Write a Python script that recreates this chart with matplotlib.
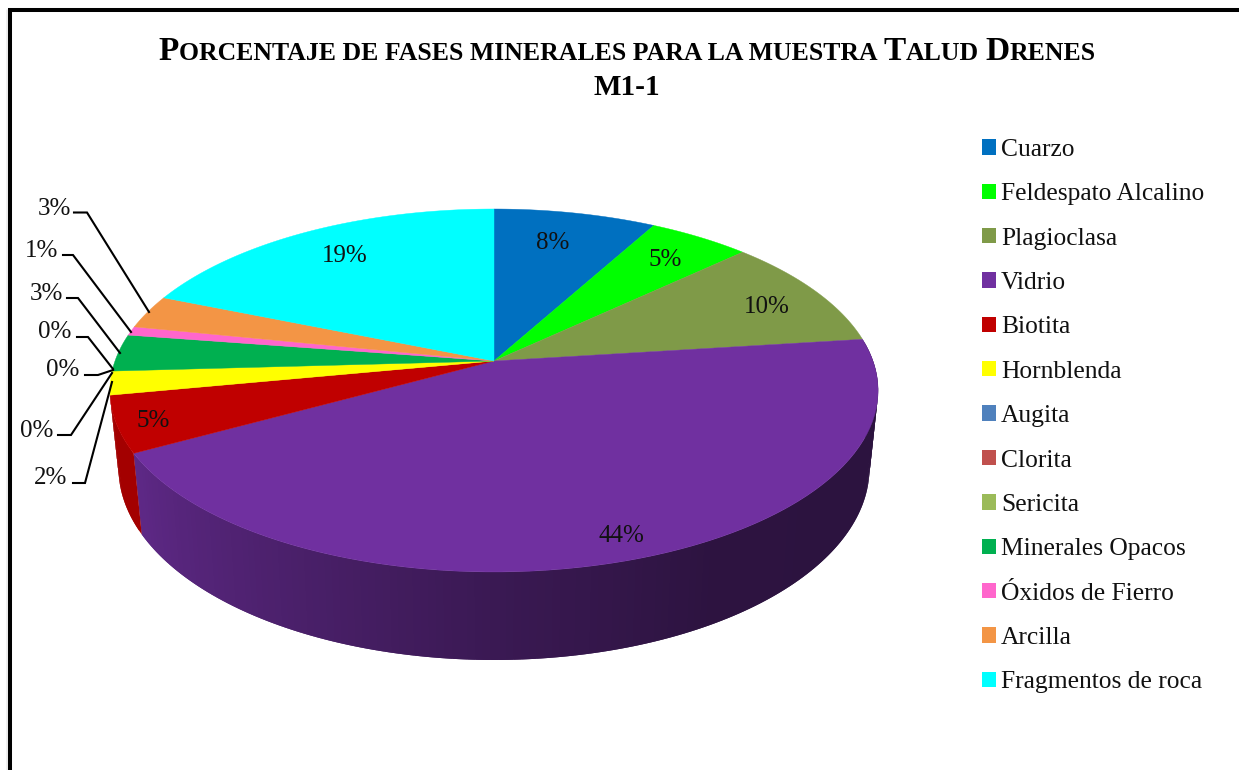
#!/usr/bin/env python3
import matplotlib
matplotlib.use('Agg')
import matplotlib.pyplot as plt
from matplotlib.patches import Patch
import numpy as np

minerals = ['Cuarzo', 'Feldespato Alcalino', 'Plagioclasa', 'Vidrio', 'Biotita',
            'Hornblenda', 'Augita', 'Clorita', 'Sericita', 'Minerales Opacos',
            'Óxidos de Fierro', 'Arcilla', 'Fragmentos de roca']
percents = [8.0, 5.0, 10.0, 44.0, 5.0, 2.1, 0.0, 0.0, 0.0, 3.3, 0.8, 3.0, 18.8]
colors = ['#0070C0', '#00FF00', '#7F9A48', '#7030A0', '#C00000', '#FFFF00', '#4F81BD',
          '#C0504D', '#9BBB59', '#00B050', '#FF66CC', '#F39545', '#00FFFF']

# label centres in pixels, same order as minerals
label_pos = [(553, 240), (665, 257), (767, 304), (621, 533), (153, 418), (51, 475),
             (37, 428), (63, 367), (55, 329), (46, 291), (42, 248), (54, 206), (345, 253)]
# leader lines, only for the labels outside the pie
leaders = {
    5: [(73, 483), (85, 483), (112, 382)],
    6: [(58, 435), (71, 435), (112, 373)],
    7: [(85, 375), (98, 375), (113, 370)],
    8: [(77, 337), (88, 337), (113, 369)],
    9: [(67, 298), (78, 298), (120, 353)],
    10: [(63, 255), (73, 255), (131, 332)],
    11: [(74, 212.5), (87, 212.5), (149, 312)],
}

SERIF = 'Liberation Serif'
CX, CY = 494, 361


def project(theta, a=379.0, b=176.7, y0=CY, k=0.1625):
    """Perspective view of a unit disc, theta clockwise from the top, degrees."""
    t = np.radians(theta)
    d = 1 + k * np.cos(t)
    return CX + a * np.sin(t) / d, y0 - b * np.cos(t) / d


def bottom(theta):
    return project(theta, a=370.5, b=187.0, y0=436.7)


def wall_shade(theta):
    # lighter at the left end of the wall, dark towards the right
    return np.interp(theta, [100, 150, 180, 210, 241, 260], [0.39, 0.40, 0.52, 0.68, 0.84, 0.85])


def draw_runs(ax, runs, xc, y):
    """Small caps line: runs of (text, size, gap after), centred on xc."""
    renderer = ax.figure.canvas.get_renderer()
    items = []
    total = 0
    for s, size, gap in runs:
        t = ax.text(0, y, s, fontsize=size, fontweight='bold', family=SERIF, color='black',
                    ha='left', va='baseline')
        w = t.get_window_extent(renderer).width
        items.append((t, w, gap))
        total += w + gap
    x = xc - total / 2
    for t, w, gap in items:
        t.set_x(x)
        x += w + gap


fig = plt.figure(figsize=(12.39, 7.70), dpi=100)
ax = fig.add_axes([0, 0, 1, 1])
ax.set_xlim(0, 1239)
ax.set_ylim(770, 0)
ax.axis('off')

# chart frame
ax.plot([6.5, 6.5], [9, 770], color='#eeeeee', lw=2.0, solid_capstyle='butt')
ax.plot([10, 10, 1239], [770, 10, 10], color='black', lw=2.9, solid_joinstyle='miter')

edges = np.concatenate([[0], np.cumsum(percents)]) * 3.6

# side wall of the front slices, strips overlap so no seams show
for i in (3, 4):
    start, stop = edges[i], edges[i + 1]
    steps = np.linspace(start, stop, int(stop - start) + 2)
    base = np.array(matplotlib.colors.to_rgb(colors[i]))
    for j in range(len(steps) - 1):
        t0 = steps[j]
        t1 = steps[min(j + 2, len(steps) - 1)]
        arc = np.linspace(t0, t1, 5)
        tx, ty = project(arc)
        bx, by = bottom(arc[::-1])
        shade = base * (wall_shade(steps[j] + 0.5) if i == 3 else 0.85)
        ax.fill(np.r_[tx, bx], np.r_[ty, by], color=shade, lw=0, zorder=2)

# top of the pie
for i, v in enumerate(percents):
    if v == 0:
        continue
    arc = np.linspace(edges[i], edges[i + 1], 80)
    px, py = project(arc)
    ax.fill(np.r_[CX, px], np.r_[CY, py], color=colors[i], lw=0.3, zorder=3)

# data labels
for i, v in enumerate(percents):
    ax.text(label_pos[i][0], label_pos[i][1] + 3, f'{v:.0f}%', fontsize=18, family=SERIF,
            color='#111111', ha='center', va='center', zorder=5)
for pts in leaders.values():
    ax.plot([p[0] for p in pts], [p[1] for p in pts], color='black', lw=1.5, zorder=4,
            solid_joinstyle='miter')

# title
draw_runs(ax, [('P', 24, 0), ('ORCENTAJE DE FASES MINERALES PARA LA MUESTRA', 18.5, 6),
               ('T', 24, 0), ('ALUD', 18.5, 6), ('D', 24, 0), ('RENES', 18.5, 0)], 627, 60)
ax.text(627, 95, 'M1-1', fontsize=21, fontweight='bold', family=SERIF, color='black',
        ha='center', va='baseline')

handles = [Patch(facecolor=c, edgecolor='none', label=m) for c, m in zip(colors, minerals)]
ax.legend(handles=handles, loc='upper left', bbox_to_anchor=(982, 139),
          bbox_transform=ax.transData, frameon=False, borderpad=0, borderaxespad=0,
          prop={'family': SERIF, 'size': 18.4}, handlelength=0.55, handleheight=0.55,
          handletextpad=0.2, labelspacing=0.875, labelcolor='#111111')

fig.savefig('out.png', dpi=100)
